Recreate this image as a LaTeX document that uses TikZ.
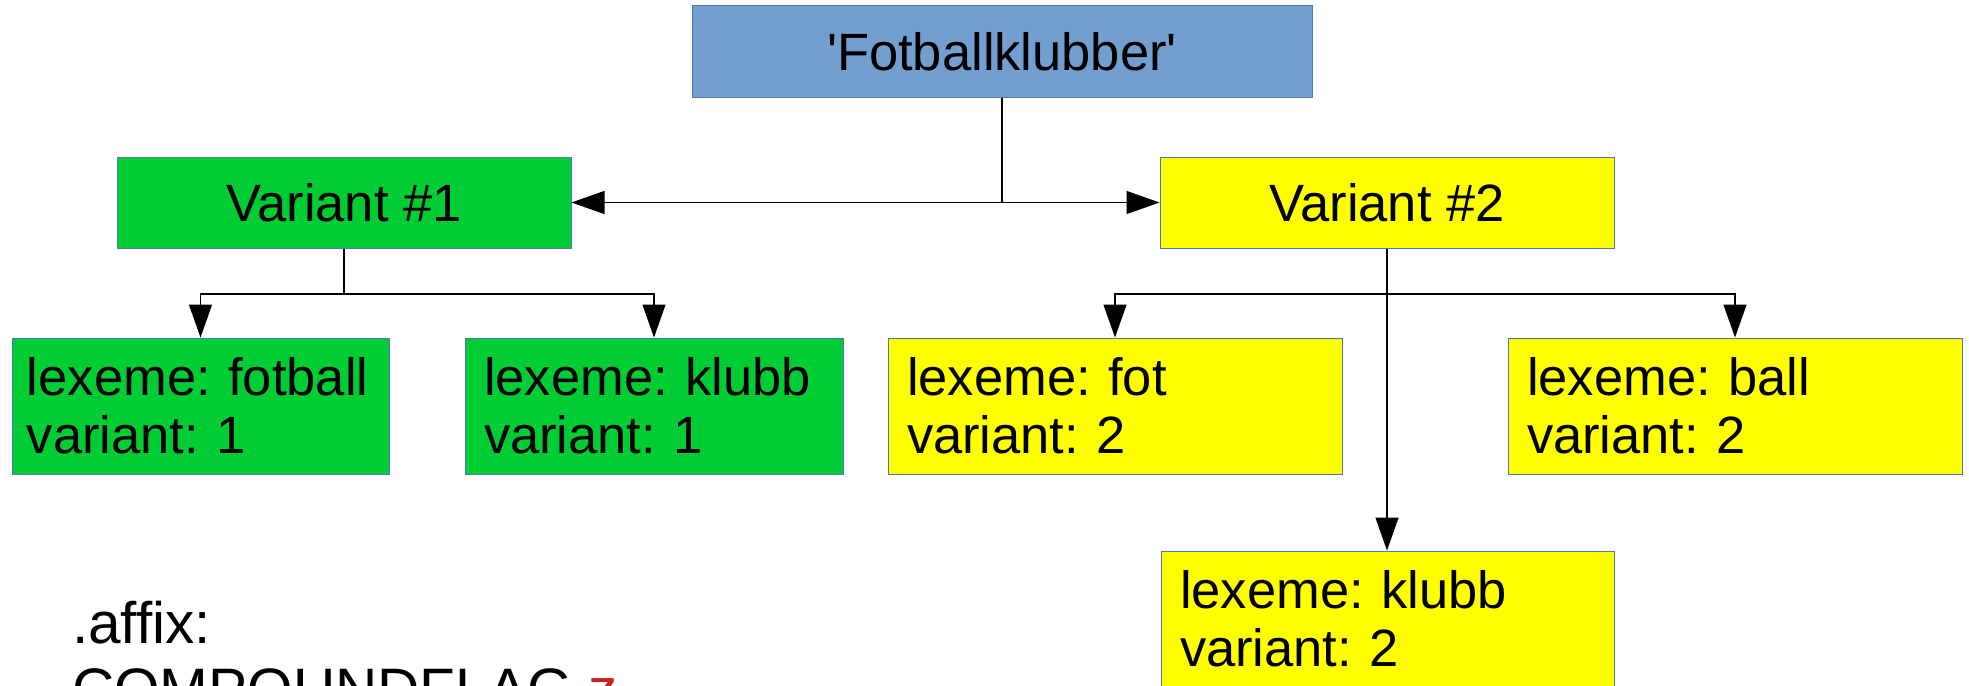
\documentclass[tikz,border=0pt]{standalone}
\usepackage{fontspec}
\setmainfont{Liberation Sans}
\usetikzlibrary{arrows.meta}
\frenchspacing
\hyphenpenalty=10000
\definecolor{topblue}{RGB}{114,159,207}
\definecolor{vgreen}{RGB}{0,204,51}
\definecolor{vyellow}{RGB}{255,255,0}
\definecolor{edgeblue}{RGB}{80,120,175}
\definecolor{flagred}{RGB}{201,33,30}
\tikzset{
  box/.style={draw=edgeblue, line width=1pt, rectangle, inner sep=0pt, font=\fontsize{52.5}{58}\selectfont},
  headbox/.style={box, minimum height=91pt},
  lexbox/.style={box, minimum height=136pt, inner xsep=19pt, align=left},
  conn/.style={line width=1.3pt, black},
  arr/.style={conn, -{Triangle[length=33pt,width=23pt]}},
  note/.style={anchor=base west, inner sep=0pt, font=\fontsize{58.5}{66}\selectfont}
}
\begin{document}
\begin{tikzpicture}[x=1pt,y=1pt]
\useasboundingbox (0,0) rectangle (1969,-685);
\node[headbox, fill=topblue, minimum width=620pt] (top) at (1002,-51.5) {\textquotesingle Fotballklubber\textquotesingle};
\node[headbox, fill=vgreen, minimum width=454pt] (v1) at (344,-202.5) {Variant \#1};
\node[headbox, fill=vyellow, minimum width=454pt] (v2) at (1387,-202.5) {Variant \#2};
\node[lexbox, fill=vgreen, text width=347pt, inner xsep=15pt] (l1) at (200.5,-406) {lexeme: fotball\\variant: 1};
\node[lexbox, fill=vgreen, text width=340pt] (l2) at (654,-406) {lexeme: klubb\\variant: 1};
\node[lexbox, fill=vyellow, text width=416pt] (l3) at (1115,-406) {lexeme: fot\\variant: 2};
\node[lexbox, fill=vyellow, text width=416pt] (l4) at (1735,-406) {lexeme: ball\\variant: 2};
\node[lexbox, fill=vyellow, text width=415pt] (l5) at (1387.5,-619) {lexeme: klubb\\variant: 2};
\coordinate (j0) at (1002,-202.5);
\coordinate (j1) at (344,-294);
\coordinate (j2) at (1387,-294);
\draw[conn] (top.south) -- (j0);
\draw[arr] (j0) -- (v1.east);
\draw[arr] (j0) -- (v2.west);
\draw[conn] (v1.south) -- (j1);
\draw[arr] (j1) -| (l1.north);
\draw[arr] (j1) -| (l2.north);
\draw[conn] (v2.south) -- (j2);
\draw[arr] (j2) -| (l3.north);
\draw[arr] (j2) -| (l4.north);
\draw[arr] (j2) -- (j2 |- l5.north);
\node[note] (affix) at (72,-643) {.affix:};
\node[note] (flag) at (72,-709) {COMPOUNDFLAG {\color{flagred}z}};
\end{tikzpicture}
\end{document}
